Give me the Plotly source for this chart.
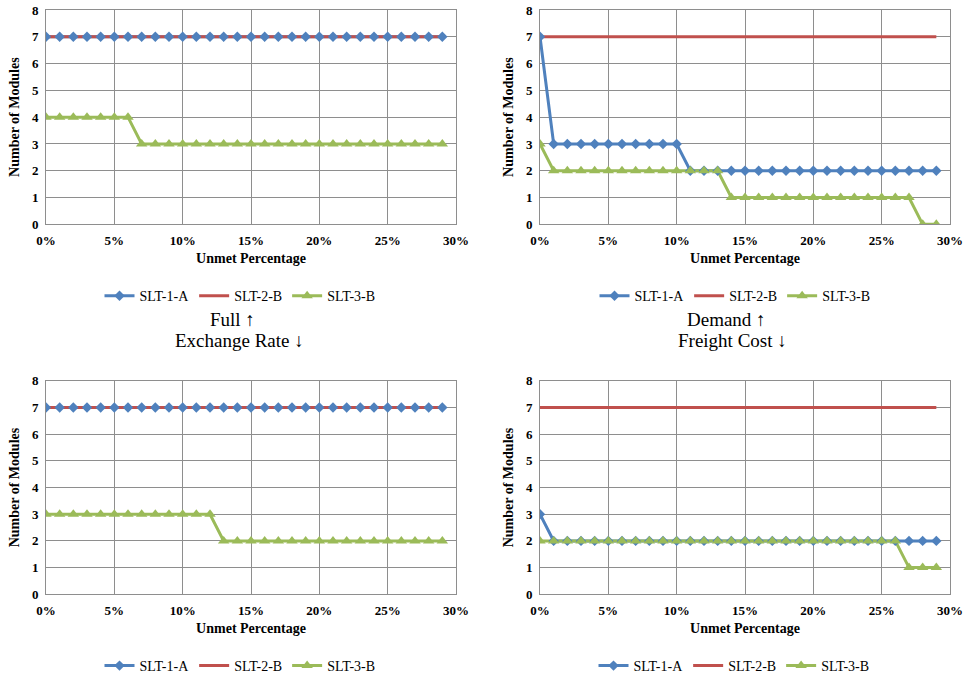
import plotly.graph_objects as go

# ---------------- data ----------------
unmet_pct = list(range(30))  # 0% .. 29%

# Panel 1: Full up / Exchange rate down (top-left)
p1_slt1a = [7] * 30
p1_slt2b = [7] * 30
p1_slt3b = [4, 4, 4, 4, 4, 4, 4] + [3] * 23

# Panel 2: Demand up / Freight cost down (top-right)
p2_slt1a = [7] + [3] * 10 + [2] * 19
p2_slt2b = [7] * 30
p2_slt3b = [3] + [2] * 13 + [1] * 14 + [0, 0]

# Panel 3: bottom-left
p3_slt1a = [7] * 30
p3_slt2b = [7] * 30
p3_slt3b = [3] * 13 + [2] * 17

# Panel 4: bottom-right
p4_slt1a = [3] + [2] * 29
p4_slt2b = [7] * 30
p4_slt3b = [2] * 27 + [1, 1, 1]

series_names = ["SLT-1-A", "SLT-2-B", "SLT-3-B"]
panels = [
    (p1_slt1a, p1_slt2b, p1_slt3b),
    (p2_slt1a, p2_slt2b, p2_slt3b),
    (p3_slt1a, p3_slt2b, p3_slt3b),
    (p4_slt1a, p4_slt2b, p4_slt3b),
]

# ---------------- styling ----------------
W, H = 966, 682
BLUE, RED, GREEN = "#4F81BD", "#C0504D", "#9BBB59"
colors = [BLUE, RED, GREEN]
symbols = ["diamond", None, "triangle-up"]
msizes = [8, 0, 10]
GRID = "#8E8E8E"
SERIF = "Liberation Serif"

def px_x(a, b):
    return [a / W, b / W]

def px_y(top, bottom):
    return [1 - bottom / H, 1 - top / H]

x_domains = [px_x(46, 456), px_x(540, 950), px_x(46, 456), px_x(540, 950)]
y_domains = [px_y(10, 225), px_y(10, 225), px_y(382, 596), px_y(382, 596)]
legend_pos = [(240 / W, 1 - 297 / H), (735 / W, 1 - 297 / H),
              (240 / W, 1 - 668 / H), (734 / W, 1 - 668 / H)]

fig = go.Figure()

for i, data in enumerate(panels):
    n = i + 1
    xa = "x" if n == 1 else f"x{n}"
    ya = "y" if n == 1 else f"y{n}"
    lg = "legend" if n == 1 else f"legend{n}"

    # legend entries (line + marker symbol)
    for s in range(3):
        mk = dict(color=colors[s], size=msizes[s], symbol=symbols[s]) if symbols[s] else dict(size=0, color=colors[s])
        fig.add_trace(go.Scatter(
            x=[None], y=[None], name=series_names[s], legend=lg,
            mode="lines+markers" if symbols[s] else "lines",
            line=dict(color=colors[s], width=3), marker=mk,
            xaxis=xa, yaxis=ya, hoverinfo="skip"))
    # lines first (all series), then markers (as the original chart draws them)
    for s in range(3):
        fig.add_trace(go.Scatter(
            x=unmet_pct, y=data[s], mode="lines", showlegend=False,
            line=dict(color=colors[s], width=3), xaxis=xa, yaxis=ya,
            name=series_names[s]))
    for s in (0, 2):
        fig.add_trace(go.Scatter(
            x=unmet_pct, y=data[s], mode="markers", showlegend=False,
            marker=dict(color=colors[s], size=msizes[s], symbol=symbols[s],
                        line=dict(width=0)),
            xaxis=xa, yaxis=ya, name=series_names[s]))

    tf = dict(family=SERIF, size=13, color="black", weight="bold")
    ttf = dict(family=SERIF, size=14, color="black", weight="bold")
    fig.update_layout({
        f"xaxis{'' if n == 1 else n}": dict(
            domain=x_domains[i], anchor=ya, range=[0, 30], automargin=False,
            tickmode="linear", tick0=0, dtick=5, ticksuffix="%",
            showgrid=True, gridcolor=GRID, gridwidth=1,
            showline=True, linecolor=GRID, linewidth=1, mirror=True,
            zeroline=False, ticks="", tickfont=tf, ticklabelstandoff=4,
            title=dict(text="Unmet Percentage", standoff=6, font=ttf)),
        f"yaxis{'' if n == 1 else n}": dict(
            domain=y_domains[i], anchor=xa, range=[0, 8], automargin=False,
            tickmode="linear", tick0=0, dtick=1,
            showgrid=True, gridcolor=GRID, gridwidth=1,
            showline=True, linecolor=GRID, linewidth=1, mirror=True,
            zeroline=False, ticks="", tickfont=tf, ticklabelstandoff=4,
            title=dict(text="Number of Modules", standoff=8, font=ttf)),
        lg: dict(orientation="h", x=legend_pos[i][0], y=legend_pos[i][1],
                 xanchor="center", yanchor="middle",
                 font=dict(family=SERIF, size=14, color="black"),
                 bgcolor="rgba(0,0,0,0)", itemwidth=30, tracegroupgap=0),
    })

annotations = [
    dict(text="Full ↑", x=232 / W, y=1 - 320 / H),
    dict(text="Exchange Rate ↓", x=239 / W, y=1 - 342 / H),
    dict(text="Demand ↑", x=726 / W, y=1 - 320 / H),
    dict(text="Freight Cost ↓", x=732 / W, y=1 - 342 / H),
]
for a in annotations:
    a.update(xref="paper", yref="paper", showarrow=False, xanchor="center", yanchor="middle",
             font=dict(family=SERIF, size=19, color="black"))

fig.update_layout(width=W, height=H, margin=dict(l=0, r=0, t=0, b=0),
                  paper_bgcolor="white", plot_bgcolor="white",
                  font=dict(family=SERIF, color="black"),
                  annotations=annotations)

fig.write_html("out.html")
